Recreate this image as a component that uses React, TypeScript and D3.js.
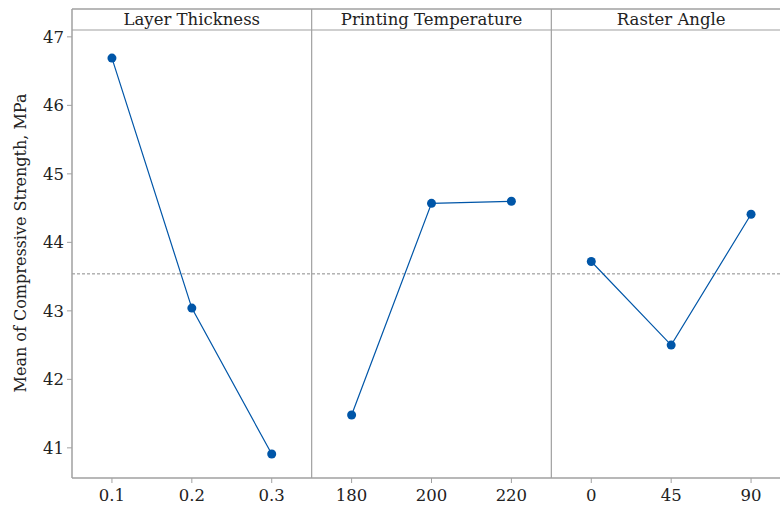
import React from 'react';
import * as d3 from 'd3';

// factor names and their levels
const factors = ['Layer Thickness', 'Printing Temperature', 'Raster Angle'];
const levels = [
  ['0.1', '0.2', '0.3'],
  ['180', '200', '220'],
  ['0', '45', '90'],
];
// mean of compressive strength at each level
const means = [
  [46.69, 43.04, 40.91],
  [41.48, 44.57, 44.60],
  [43.72, 42.50, 44.41],
];
const grandMean = 43.54;
const yTicks = [41, 42, 43, 44, 45, 46, 47];

const W = 780;
const H = 506;
const margin = { left: 72, right: -11, top: 9, bottom: 28 };
const headerH = 21;
const blue = '#0056a8';
const frame = '#a0a0a0';
const font = '"DejaVu Serif", serif';

export default function App() {
  const plotLeft = margin.left;
  const plotRight = W - margin.right;
  const plotTop = margin.top + headerH;
  const plotBottom = H - margin.bottom;

  const y = d3.scaleLinear().domain([40.56, 47.1]).range([plotBottom, plotTop]);
  const panel = d3.scaleBand<string>().domain(factors).range([plotLeft, plotRight]);

  const line = d3.line<[number, number]>().x(d => d[0]).y(d => d[1]);

  return (
    <svg width={W} height={H} style={{ position: 'absolute', left: 0, top: 0, background: '#fff' }}>
      <rect x={0} y={0} width={W} height={H} fill="#fff" />

      {/* y axis */}
      {yTicks.map(t => (
        <g key={t}>
          <line x1={plotLeft - 5} x2={plotLeft} y1={y(t)} y2={y(t)} stroke={frame} />
          <text x={plotLeft - 8} y={y(t)} dy="0.36em" textAnchor="end" fontFamily={font} fontSize={16.5} fill="#222">
            {t}
          </text>
        </g>
      ))}
      <text
        transform={`translate(26,243) rotate(-90)`}
        textAnchor="middle"
        fontFamily={font}
        fontSize={16}
        fill="#222"
      >
        Mean of Compressive Strength, MPa
      </text>

      {/* mean reference line */}
      <line
        x1={plotLeft}
        x2={plotRight}
        y1={y(grandMean)}
        y2={y(grandMean)}
        stroke="#8a8a8a"
        strokeWidth={1}
        strokeDasharray="3,2"
      />

      {factors.map((f, i) => {
        const x0 = panel(f)!;
        const x = d3.scalePoint<string>().domain(levels[i]).range([x0, x0 + panel.bandwidth()]).padding(0.5);
        const pts: [number, number][] = levels[i].map((l, j) => [x(l)!, y(means[i][j])]);
        return (
          <g key={f}>
            <text
              x={x0 + panel.bandwidth() / 2}
              y={margin.top + headerH / 2}
              dy="0.36em"
              textAnchor="middle"
              fontFamily={font}
              fontSize={16.5}
              fill="#222"
            >
              {f}
            </text>
            {levels[i].map(l => (
              <g key={l}>
                <line x1={x(l)} x2={x(l)} y1={plotBottom} y2={plotBottom + 5} stroke={frame} />
                <text x={x(l)} y={plotBottom + 23} textAnchor="middle" fontFamily={font} fontSize={16.5} fill="#222">
                  {l}
                </text>
              </g>
            ))}
            <path d={line(pts)!} fill="none" stroke={blue} strokeWidth={1.2} />
            {pts.map((p, j) => (
              <circle key={j} cx={p[0]} cy={p[1]} r={4.5} fill={blue} />
            ))}
          </g>
        );
      })}

      {/* frame */}
      <line x1={plotLeft} x2={plotRight} y1={margin.top} y2={margin.top} stroke={frame} strokeWidth={1.5} />
      <line x1={plotLeft} x2={plotRight} y1={plotTop} y2={plotTop} stroke={frame} strokeWidth={1.2} />
      <line x1={plotLeft} x2={plotRight} y1={plotBottom} y2={plotBottom} stroke={frame} strokeWidth={1.5} />
      <line x1={plotLeft} x2={plotLeft} y1={margin.top} y2={plotBottom} stroke={frame} strokeWidth={1.5} />
      {factors.slice(1).map(f => (
        <line key={f} x1={panel(f)} x2={panel(f)} y1={margin.top} y2={plotBottom} stroke={frame} strokeWidth={1.2} />
      ))}
    </svg>
  );
}
